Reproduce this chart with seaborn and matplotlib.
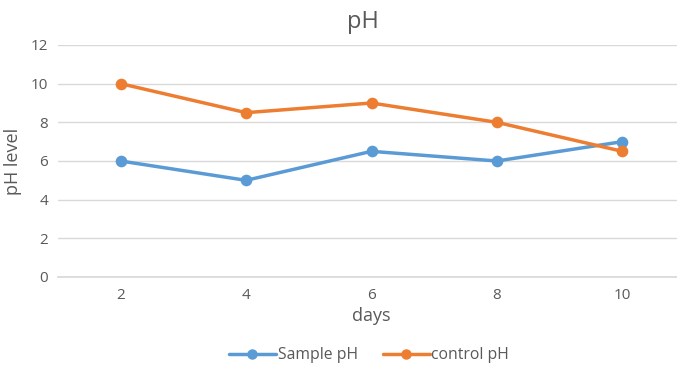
import matplotlib
matplotlib.use("Agg")
import matplotlib.pyplot as plt
import seaborn as sns
import pandas as pd

days = ["2", "4", "6", "8", "10"]
sample_ph = [6, 5, 6.5, 6, 7]
control_ph = [10, 8.5, 9, 8, 6.5]
series_names = ["Sample pH", "control pH"]
colors = ["#5B9BD5", "#ED7D31"]

df = pd.DataFrame({
    "days": days * 2,
    "pH": sample_ph + control_ph,
    "series": [series_names[0]] * len(days) + [series_names[1]] * len(days),
})

sns.set_theme(style="white")
plt.rcParams["font.family"] = ["Open Sans", "DejaVu Sans"]
text_color = "#595959"

fig = plt.figure(figsize=(6.77, 3.72), dpi=100)
ax = fig.add_axes([58 / 677, 95 / 372, 627 / 677, 232 / 372])

sns.pointplot(
    data=df, x="days", y="pH", hue="series", order=days,
    hue_order=series_names, palette=colors, markers="o", linestyles="-",
    errorbar=None, linewidth=2.5, markersize=6.5, ax=ax, legend=False,
)

ax.set_ylim(0, 12)
ax.set_yticks(range(0, 13, 2))
ax.set_xlim(-0.5, 4.5)
ax.grid(axis="y", color="#D9D9D9", linewidth=1)
ax.set_axisbelow(True)
for side in ["top", "right", "left"]:
    ax.spines[side].set_visible(False)
ax.spines["bottom"].set_color("#D9D9D9")
ax.tick_params(axis="both", length=0, labelsize=11, colors=text_color, pad=7)
ax.tick_params(axis="x", pad=8)

ax.set_xlabel("days", fontsize=13, color=text_color, labelpad=3)
ax.set_ylabel("pH level", fontsize=13, color=text_color, labelpad=6)
fig.text(363 / 677, 1 - 22 / 372, "pH", ha="center", va="center",
         fontsize=17, color=text_color)

handles = [
    plt.Line2D([], [], color=c, marker="o", linewidth=2.5, markersize=6.5)
    for c in colors
]
fig.legend(handles, series_names, loc="center", bbox_to_anchor=(369 / 677, 1 - 355 / 372),
           ncol=2, frameon=False, fontsize=11.3, labelcolor=text_color,
           handlelength=3.0, handletextpad=0.1, columnspacing=1.6)

fig.savefig("out.png", dpi=100)
